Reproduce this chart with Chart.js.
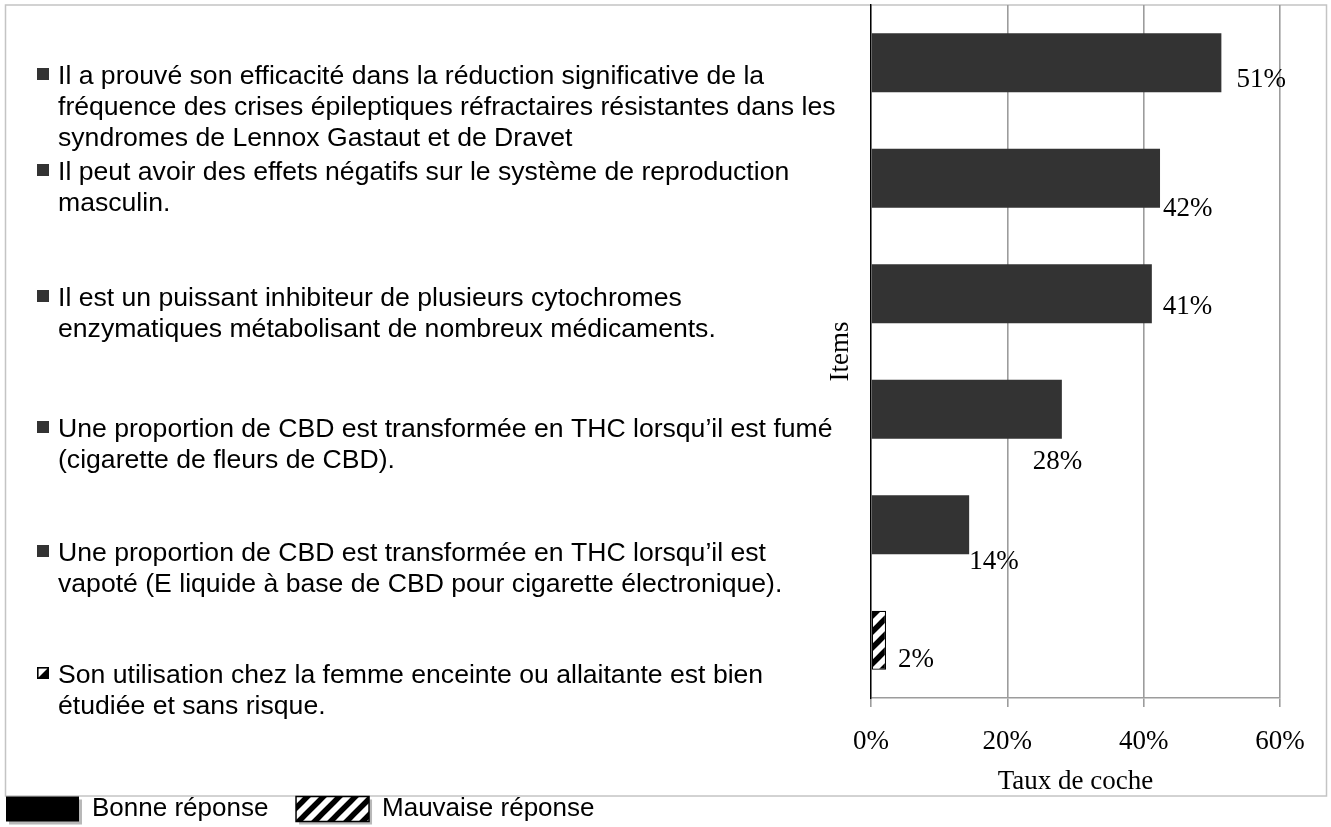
<!DOCTYPE html>
<html>
<head>
<meta charset="utf-8">
<script src="https://cdn.jsdelivr.net/npm/chart.js@4/dist/chart.umd.min.js"></script>
<style>
  html, body { margin: 0; padding: 0; background: #fff; }
  #wrap { width: 1331px; height: 827px; position: relative; }
</style>
</head>
<body>
<div id="wrap"><canvas id="myChart"></canvas></div>
<script>
// Data
var categories = [
  ["Il a prouvé son efficacité dans la réduction significative de la",
   "fréquence des crises épileptiques réfractaires résistantes dans les",
   "syndromes de Lennox Gastaut et de Dravet"],
  ["Il peut avoir des effets négatifs sur le système de reproduction",
   "masculin."],
  ["Il est un puissant inhibiteur de plusieurs cytochromes",
   "enzymatiques métabolisant de nombreux médicaments."],
  ["Une proportion de CBD est transformée en THC lorsqu’il est fumé",
   "(cigarette de fleurs de CBD)."],
  ["Une proportion de CBD est transformée en THC lorsqu’il est",
   "vapoté (E liquide à base de CBD pour cigarette électronique)."],
  ["Son utilisation chez la femme enceinte ou allaitante est bien",
   "étudiée et sans risque."]
];
var values = [51.4, 42.4, 41.2, 28.0, 14.4, 2.2];
var correct = [true, true, true, true, true, false];
var legendLabels = ["Bonne réponse", "Mauvaise réponse"];
var tickValues = [0, 20, 40, 60];

var sansFont = "'Liberation Sans', Arial, sans-serif";
var serifFont = "'Liberation Serif', 'Times New Roman', serif";
var darkBar = "#333333";

// hatch pattern for the wrong answer
function makeHatch() {
  var tile = document.createElement("canvas");
  tile.width = 16;
  tile.height = 16;
  var t = tile.getContext("2d");
  t.fillStyle = "#fff";
  t.fillRect(0, 0, 16, 16);
  t.strokeStyle = "#000";
  t.lineWidth = 5.5;
  t.beginPath();
  t.moveTo(-4, 20); t.lineTo(20, -4);
  t.moveTo(-12, 12); t.lineTo(12, -12);
  t.moveTo(4, 28); t.lineTo(28, 4);
  t.stroke();
  return document.createElement("canvas").getContext("2d").createPattern(tile, "repeat");
}
var hatch = makeHatch();

var barColors = correct.map(c => c ? darkBar : hatch);
var borderColors = correct.map(c => c ? darkBar : "#000");
var borderWidths = correct.map(c => c ? 0 : 1.2);

// frame around the plot + grey shadow under the legend boxes
const framePlugin = {
  id: "frame",
  beforeDraw(chart) {
    const ctx = chart.ctx;
    ctx.save();
    ctx.fillStyle = "#fff";
    ctx.fillRect(0, 0, chart.width, chart.height);
    ctx.strokeStyle = "#c4c4c4";
    ctx.lineWidth = 1.5;
    ctx.strokeRect(5.5, 5, 1321, 791);

    const lg = chart.legend;
    if (lg && lg.legendHitBoxes) {
      const bw = lg.options.labels.boxWidth, bh = lg.options.labels.boxHeight;
      ctx.fillStyle = "#b8b8b8";
      lg.legendHitBoxes.forEach(hb => {
        const by = hb.top + (hb.height - bh) / 2;
        ctx.fillRect(hb.left + 3, by + 3, bw, bh);
      });
    }
    ctx.restore();
  }
};

// item texts on the left, legend style with a small square
const itemsPlugin = {
  id: "items",
  afterDraw(chart, args, opts) {
    const ctx = chart.ctx;
    ctx.save();
    ctx.font = opts.fontSize + "px " + sansFont;
    ctx.textBaseline = "alphabetic";
    ctx.textAlign = "left";
    categories.forEach((lines, i) => {
      let base = opts.baselines[i];
      const mx = opts.markerX, s = 12;
      if (correct[i]) {
        ctx.fillStyle = darkBar;
        ctx.fillRect(mx, base - 16, s, s);
      } else {
        ctx.fillStyle = "#fff";
        ctx.fillRect(mx, base - 16, s, s);
        ctx.fillStyle = "#000";
        ctx.beginPath();
        ctx.moveTo(mx, base - 4);
        ctx.lineTo(mx + s, base - 16);
        ctx.lineTo(mx + s, base - 4);
        ctx.closePath();
        ctx.fill();
        ctx.lineWidth = 1.6;
        ctx.strokeRect(mx + 0.8, base - 15.2, s - 1.6, s - 1.6);
      }
      ctx.fillStyle = "#000";
      lines.forEach((line, j) => {
        ctx.fillText(line, opts.textX, base + j * opts.lineHeight);
      });
    });
    ctx.restore();
  }
};

// percentage labels next to bars
const valueLabels = {
  id: "valueLabels",
  afterDatasetsDraw(chart, args, opts) {
    const ctx = chart.ctx;
    const meta = chart.getDatasetMeta(0);
    ctx.save();
    ctx.font = opts.fontSize + "px " + serifFont;
    ctx.fillStyle = "#000";
    ctx.textAlign = "left";
    ctx.textBaseline = "middle";
    meta.data.forEach((bar, i) => {
      const off = opts.offsets[i];
      ctx.fillText(Math.round(values[i]) + "%", bar.x + off[0], bar.y + off[1]);
    });
    ctx.restore();
  }
};

const ctx = document.getElementById("myChart").getContext("2d");
const myChart = new Chart(ctx, {
  type: "bar",
  data: {
    labels: categories,
    datasets: [{
      label: "Taux de coche",
      data: values,
      backgroundColor: barColors,
      borderColor: borderColors,
      borderWidth: borderWidths,
      borderSkipped: false,
      barPercentage: 0.51,
      categoryPercentage: 1
    }]
  },
  options: {
    indexAxis: "y",
    responsive: true,
    maintainAspectRatio: false,
    animation: false,
    layout: { padding: { top: 5, right: 51, left: 0, bottom: -5 } },
    scales: {
      x: {
        min: 0,
        max: 60,
        afterBuildTicks: function (scale) {
          scale.ticks = tickValues.map(v => ({ value: v }));
        },
        afterFit: function (scale) { scale.height = 92; },
        ticks: {
          padding: 19,
          color: "#000",
          font: { family: serifFont, size: 27 },
          callback: v => v + "%"
        },
        grid: {
          color: "#9c9c9c",
          lineWidth: 1.6,
          tickLength: 9,
          tickColor: "#9c9c9c"
        },
        border: { display: true, color: "#9c9c9c", width: 1.6 },
        title: {
          display: true,
          text: "Taux de coche",
          color: "#000",
          font: { family: serifFont, size: 27 },
          padding: { top: 0, bottom: -8 }
        }
      },
      y: {
        ticks: { display: false },
        grid: { display: false },
        border: { display: true, color: "#000", width: 1.4 },
        afterFit: function (scale) { scale.width = 871; },
        title: {
          display: true,
          text: "Items",
          color: "#000",
          font: { family: serifFont, size: 27 },
          padding: { top: 825, bottom: 0 }
        }
      }
    },
    plugins: {
      tooltip: { enabled: false },
      legend: {
        position: "bottom",
        align: "start",
        labels: {
          boxWidth: 73,
          boxHeight: 25,
          padding: 6,
          color: "#000",
          font: { family: sansFont, size: 26 },
          generateLabels: function () {
            return [
              { text: legendLabels[0] + "   ", fillStyle: "#000", strokeStyle: "#000", lineWidth: 0, datasetIndex: 0 },
              { text: legendLabels[1], fillStyle: hatch, strokeStyle: "#000", lineWidth: 1.5, datasetIndex: 0 }
            ];
          }
        },
        onClick: null
      },
      items: {
        baselines: [84, 180, 306, 437, 561, 683],
        lineHeight: 31, fontSize: 26.6, markerX: 37, textX: 58
      },
      valueLabels: {
        fontSize: 27,
        offsets: [[15, 17], [3, 31], [11, 13], [-29, 53], [0, 37], [12, 20]]
      }
    }
  },
  plugins: [framePlugin, itemsPlugin, valueLabels]
});
</script>
</body>
</html>
